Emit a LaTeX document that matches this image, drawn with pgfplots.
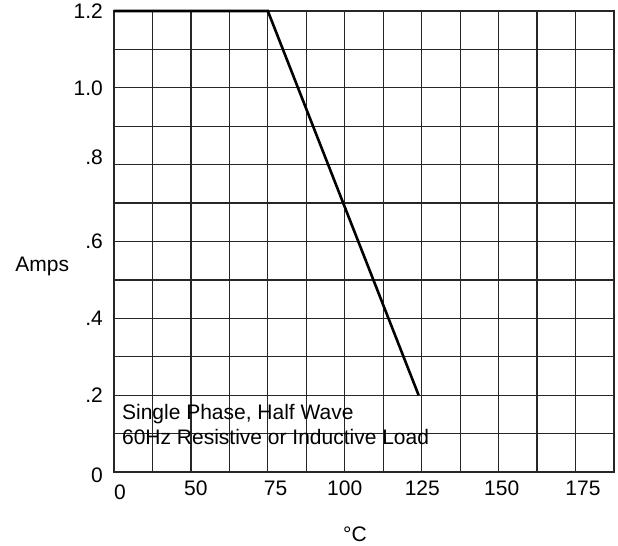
\documentclass[border=0pt]{standalone}
\usepackage{fontspec}
\setmainfont{Liberation Sans}
\usepackage{pgfplots}
\pgfplotsset{compat=1.18}
\begin{document}
\fontsize{10.5}{12.6}\selectfont
\begin{tikzpicture}
\begin{axis}[
    scale only axis,
    width=250pt, height=230.5pt,
    xmin=25, xmax=187.5, ymin=0, ymax=1.2,
    clip=false,
    % labels sit where the datasheet put them, grid comes from minor ticks
    xtick={51.6,77.5,100,125.2,151,177.4},
    xticklabels={50,75,100,125,150,175},
    extra x ticks={26.95}, extra x tick labels={0},
    extra x tick style={xticklabel style={yshift=-2pt}},
    ytick={0.2,0.4,0.6,0.82,1.0,1.2},
    yticklabels={{.2\hspace{1.3pt}},{.4\hspace{3.1pt}},{.6\hspace{3pt}},{.8\hspace{2.7pt}},1.0,1.2},
    extra y ticks={0}, extra y tick labels={0\hspace{0.3pt}},
    extra y tick style={yticklabel style={yshift=-1.8pt}},
    minor xtick={25,37.5,...,187.5},
    minor ytick={0,0.1,...,1.2},
    xminorgrids, yminorgrids,
    xmajorgrids=false, ymajorgrids=false,
    minor grid style={black!85, line width=0.6pt},
    axis line style={black!85, line width=0.6pt},
    major tick length=0pt, minor tick length=0pt,
    xticklabel style={anchor=north, inner sep=0pt, yshift=-4.35pt},
    yticklabel style={anchor=east, inner sep=0pt, xshift=-5.35pt},
]
\addplot[black, line width=1.3pt, line join=miter] coordinates {(25,1.2) (75,1.2) (124,0.2)};
\node[anchor=base west, inner sep=0pt] at (axis cs:27.5,0.1372) {Single Phase, Half Wave};
\node[anchor=base west, inner sep=0pt] at (axis cs:27.5,0.0703) {60Hz Resistive or Inductive Load};
\node[anchor=base west, inner sep=0pt] at ([xshift=-49.5pt]axis cs:25,0.523) {Amps};
\node[anchor=base, inner sep=0pt] at ([yshift=-34.75pt]axis cs:103.3,0) {°C};
\path ([xshift=-57pt,yshift=-37pt]rel axis cs:0,0) ([xshift=2pt,yshift=5.5pt]rel axis cs:1,1);
\end{axis}
\end{tikzpicture}
\end{document}
